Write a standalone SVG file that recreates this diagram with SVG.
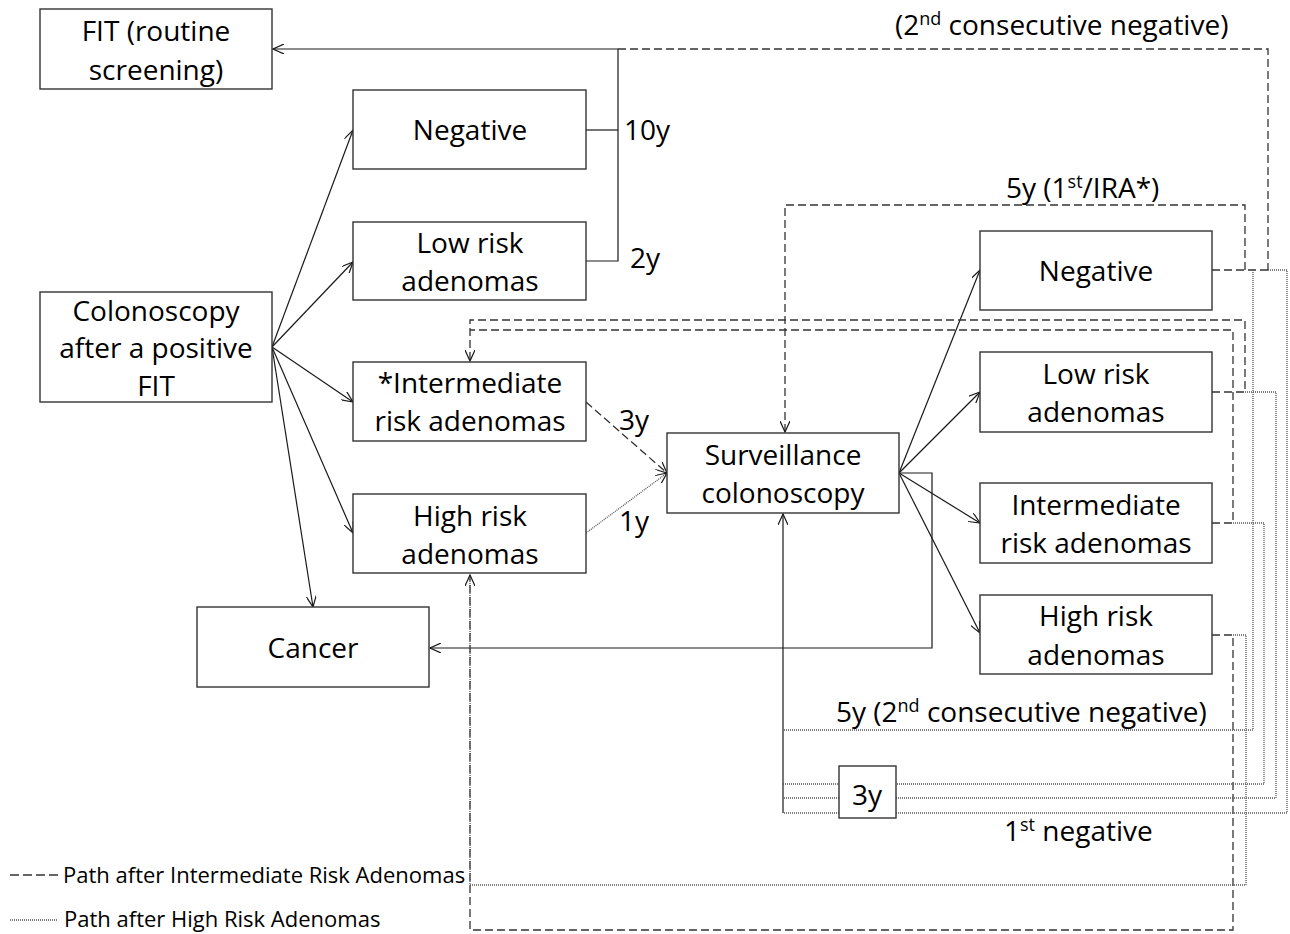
<svg xmlns="http://www.w3.org/2000/svg" width="1290" height="934" viewBox="0 0 1290 934">
<style>
.box{fill:#fff;stroke:#333;stroke-width:1.4}
.t{font-family:"Open Sans","Noto Sans",sans-serif;font-size:28px;fill:#000;text-anchor:middle}
.l{font-family:"Open Sans","Noto Sans",sans-serif;font-size:28px;fill:#000}
.lg{font-family:"Open Sans","Noto Sans",sans-serif;font-size:22px;fill:#000}
.s{fill:none;stroke:#1a1a1a;stroke-width:1.2}
.d{fill:none;stroke:#333;stroke-width:1.3;stroke-dasharray:8 4}
.o{fill:none;stroke:#555;stroke-width:1.3;stroke-dasharray:1 1}
</style>
<defs>
<marker id="a" viewBox="0 0 12 10" refX="11" refY="5" markerWidth="12" markerHeight="10" markerUnits="userSpaceOnUse" orient="auto">
<path d="M0,0 L11,5 L0,10" fill="none" stroke="#1a1a1a" stroke-width="1.2"/>
</marker>
</defs>
<g id="connectors">
<line class="s" x1="272" y1="347" x2="353" y2="130" marker-end="url(#a)"/>
<line class="s" x1="272" y1="347" x2="353" y2="262" marker-end="url(#a)"/>
<line class="s" x1="272" y1="347" x2="353" y2="402" marker-end="url(#a)"/>
<line class="s" x1="272" y1="347" x2="353" y2="533" marker-end="url(#a)"/>
<line class="s" x1="272" y1="347" x2="313" y2="607" marker-end="url(#a)"/>
<polyline class="s" points="586,130 618,130"/>
<polyline class="s" points="586,261 618,261 618,49 273,49" marker-end="url(#a)"/>
<line class="s" x1="899" y1="473" x2="980" y2="270" marker-end="url(#a)"/>
<line class="s" x1="899" y1="473" x2="980" y2="392" marker-end="url(#a)"/>
<line class="s" x1="899" y1="473" x2="980" y2="523" marker-end="url(#a)"/>
<line class="s" x1="899" y1="473" x2="980" y2="633" marker-end="url(#a)"/>
<polyline class="s" points="899,473 932,473 932,648 430,648" marker-end="url(#a)"/>
<polyline class="s" points="783,813 783,514" marker-end="url(#a)"/>
<polyline class="d" points="618,49 1268,49 1268,270"/>
<polyline class="d" points="1212,270 1268,270"/>
<polyline class="d" points="1245,270 1245,205 785,205 785,432" marker-end="url(#a)"/>
<polyline class="d" points="1212,392 1245,392 1245,320 470,320 470,361" marker-end="url(#a)"/>
<polyline class="d" points="1212,523 1233,523 1233,330 470,330"/>
<line class="d" x1="586" y1="402" x2="667" y2="473" marker-end="url(#a)"/>
<polyline class="d" points="1212,635 1233,635 1233,930 470,930 470,575" marker-end="url(#a)"/>
<line class="o" x1="586" y1="533" x2="667" y2="473" marker-end="url(#a)"/>
<polyline class="o" points="1268,270 1287,270 1287,813 783,813"/>
<polyline class="o" points="1253,270 1253,730 783,730"/>
<polyline class="o" points="1245,392 1276,392 1276,798 783,798"/>
<polyline class="o" points="1233,523 1264,523 1264,784 783,784"/>
<polyline class="o" points="1233,635 1246,635 1246,885 470,885 470,576"/>
</g>
<g id="fit">
<rect class="box" x="40" y="9" width="232" height="80"/>
<text class="t" x="156" y="41">FIT (routine</text>
<text class="t" x="156" y="80">screening)</text>
</g>
<g id="neg1">
<rect class="box" x="353" y="90" width="233" height="79"/>
<text class="t" x="470" y="140">Negative</text>
</g>
<g id="lra1">
<rect class="box" x="353" y="222" width="233" height="78"/>
<text class="t" x="470" y="253">Low risk</text>
<text class="t" x="470" y="291">adenomas</text>
</g>
<g id="colon">
<rect class="box" x="40" y="292" width="232" height="110"/>
<text class="t" x="156" y="321">Colonoscopy</text>
<text class="t" x="156" y="358">after a positive</text>
<text class="t" x="156" y="396">FIT</text>
</g>
<g id="ira1">
<rect class="box" x="353" y="362" width="233" height="79"/>
<text class="t" x="470" y="393">*Intermediate</text>
<text class="t" x="470" y="431">risk adenomas</text>
</g>
<g id="hra1">
<rect class="box" x="353" y="494" width="233" height="79"/>
<text class="t" x="470" y="526">High risk</text>
<text class="t" x="470" y="564">adenomas</text>
</g>
<g id="cancer">
<rect class="box" x="197" y="607" width="232" height="80"/>
<text class="t" x="313" y="658">Cancer</text>
</g>
<g id="surv">
<rect class="box" x="667" y="433" width="232" height="80"/>
<text class="t" x="783" y="465">Surveillance</text>
<text class="t" x="783" y="503">colonoscopy</text>
</g>
<g id="neg2">
<rect class="box" x="980" y="231" width="232" height="79"/>
<text class="t" x="1096" y="281">Negative</text>
</g>
<g id="lra2">
<rect class="box" x="980" y="352" width="232" height="80"/>
<text class="t" x="1096" y="384">Low risk</text>
<text class="t" x="1096" y="422">adenomas</text>
</g>
<g id="ira2">
<rect class="box" x="980" y="483" width="232" height="80"/>
<text class="t" x="1096" y="515">Intermediate</text>
<text class="t" x="1096" y="553">risk adenomas</text>
</g>
<g id="hra2">
<rect class="box" x="980" y="595" width="232" height="79"/>
<text class="t" x="1096" y="626">High risk</text>
<text class="t" x="1096" y="665">adenomas</text>
</g>
<g id="y3box">
<rect class="box" x="839" y="766" width="57" height="52"/>
<text class="t" x="867" y="805">3y</text>
</g>
<g id="labels">
<text class="l" x="895" y="35">(2<tspan font-size="18" dy="-10">nd</tspan><tspan dy="10"> consecutive negative)</tspan></text>
<text class="l" x="624" y="140">10y</text>
<text class="l" x="630" y="268">2y</text>
<text class="l" x="1006" y="198">5y (1<tspan font-size="18" dy="-10">st</tspan><tspan dy="10">/IRA*)</tspan></text>
<text class="l" x="619" y="430">3y</text>
<text class="l" x="619" y="531">1y</text>
<text class="l" x="836" y="722">5y (2<tspan font-size="18" dy="-10">nd</tspan><tspan dy="10"> consecutive negative)</tspan></text>
<text class="l" x="1004" y="841">1<tspan font-size="18" dy="-10">st</tspan><tspan dy="10"> negative</tspan></text>
</g>
<g id="legend">
<line class="d" x1="10" y1="875" x2="60" y2="875" style="stroke-dasharray:9 4"/>
<text class="lg" x="63" y="883">Path after Intermediate Risk Adenomas</text>
<line class="o" x1="10" y1="920" x2="58" y2="920"/>
<text class="lg" x="64" y="927">Path after High Risk Adenomas</text>
</g>
</svg>
